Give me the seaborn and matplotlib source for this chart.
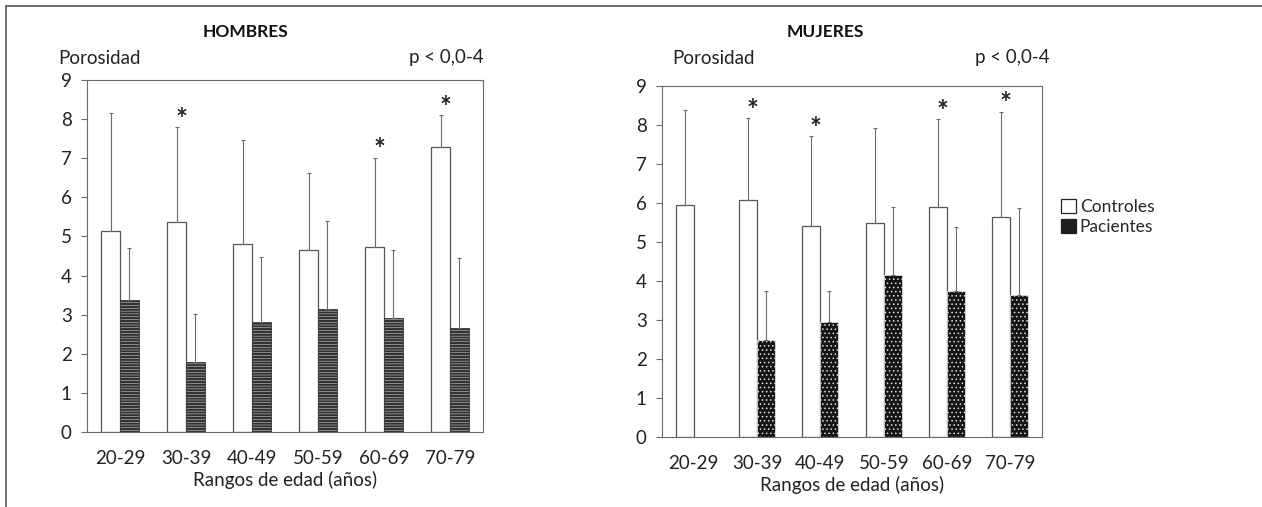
import pandas as pd
import numpy as np
import matplotlib
matplotlib.use('Agg')
import matplotlib.pyplot as plt
import seaborn as sns
from matplotlib.lines import Line2D
from matplotlib.patches import Patch

# -----------------------------
# Datos
# -----------------------------
rangos = ['20-29', '30-39', '40-49', '50-59', '60-69', '70-79']
grupos = ['Controles', 'Pacientes']

# Hombres
h_controles = [5.15, 5.38, 4.82, 4.65, 4.72, 7.30]
h_controles_sup = [8.15, 7.80, 7.48, 6.62, 7.02, 8.10]
h_pacientes = [3.38, 1.78, 2.80, 3.15, 2.92, 2.65]
h_pacientes_sup = [4.70, 3.02, 4.48, 5.40, 4.65, 4.45]
h_asteriscos = ['30-39', '60-69', '70-79']

# Mujeres
m_controles = [5.95, 6.08, 5.42, 5.50, 5.90, 5.65]
m_controles_sup = [8.38, 8.18, 7.72, 7.92, 8.15, 8.35]
m_pacientes = [0.0, 2.48, 2.95, 4.15, 3.75, 3.65]
m_pacientes_sup = [np.nan, 3.75, 3.75, 5.90, 5.40, 5.88]
m_asteriscos = ['30-39', '40-49', '60-69', '70-79']

sns.set_style('white')
plt.rcParams['font.family'] = ['Lato', 'DejaVu Sans']
plt.rcParams['hatch.linewidth'] = 1.7

fig = plt.figure(figsize=(12.62, 5.07), dpi=100)
ax_h = fig.add_axes([0.0689, 0.148, 0.3138, 0.694])
ax_m = fig.add_axes([0.5246, 0.138, 0.3011, 0.692])

gris = '#6a6a6a'
fs = 13.5


def panel(ax, controles, c_sup, pacientes, p_sup, asteriscos, hatch, fc_pac, ec_pac, hlw):
    df = pd.DataFrame({
        'Rango': rangos * 2,
        'Grupo': ['Controles'] * 6 + ['Pacientes'] * 6,
        'Porosidad': controles + pacientes,
    })
    sns.barplot(data=df, x='Rango', y='Porosidad', hue='Grupo', order=rangos,
                hue_order=grupos, palette=['white', fc_pac], width=0.57,
                errorbar=None, legend=False, ax=ax)
    for p in ax.containers[0]:
        p.set_edgecolor('#555555')
        p.set_linewidth(0.9)
    for p in ax.containers[1]:
        p.set_facecolor(fc_pac)
        p.set_edgecolor(ec_pac)
        p.set_hatch(hatch)
        p.set_linewidth(0.6)
        if hasattr(p, 'set_hatch_linewidth'):
            p.set_hatch_linewidth(hlw)

    # barras de error (solo hacia arriba)
    for cont, medias, sup in [(ax.containers[0], controles, c_sup),
                              (ax.containers[1], pacientes, p_sup)]:
        xs, ys, ups = [], [], []
        for p, m, s in zip(cont, medias, sup):
            if np.isnan(s):
                continue
            xs.append(p.get_x() + p.get_width() / 2)
            ys.append(m)
            ups.append(s - m)
        ax.errorbar(xs, ys, yerr=[np.zeros(len(ups)), ups], fmt='none',
                    ecolor=gris, elinewidth=0.8, capsize=1.5, capthick=0.8)

    # asteriscos
    for r in asteriscos:
        i = rangos.index(r)
        p = ax.containers[0][i]
        ax.text(p.get_x() + p.get_width() / 2 + 0.07, c_sup[i] - 0.02, '*',
                ha='center', va='baseline', fontsize=20, fontweight='bold', color='#222222')

    ax.set_xlim(-0.5, 5.5)
    ax.set_ylim(0, 9)
    ax.set_yticks(range(10))
    ax.set_xticks(range(6))
    ax.set_xticklabels(rangos)
    ax.set_xticks(np.arange(-0.5, 6.0, 1.0), minor=True)
    ax.tick_params(axis='x', which='major', length=0, pad=13, labelsize=fs, colors='#222222')
    ax.tick_params(axis='x', which='minor', length=7, width=0.8, color=gris, direction='out')
    ax.tick_params(axis='y', length=4, width=0.8, color=gris, direction='out', pad=7,
                   labelsize=fs, labelcolor='#222222', left=True)
    for s in ax.spines.values():
        s.set_visible(True)
        s.set_color(gris)
        s.set_linewidth(0.8)
    ax.set_xlabel('Rangos de edad (años)', fontsize=fs, color='#222222', labelpad=3)
    ax.set_ylabel('')


panel(ax_h, h_controles, h_controles_sup, h_pacientes, h_pacientes_sup,
      h_asteriscos, '------', 'white', '#333333', 1.7)
panel(ax_m, m_controles, m_controles_sup, m_pacientes, m_pacientes_sup,
      m_asteriscos, '....', '#151515', '#e0e0e0', 0.6)

# textos de cabecera
fig.text(245 / 1262, 1 - 32 / 507, 'HOMBRES', ha='center', va='center',
         fontsize=12.5, fontweight='bold', color='#111111')
fig.text(58 / 1262, 1 - 58 / 507, 'Porosidad', ha='left', va='center', fontsize=fs, color='#222222')
fig.text(484 / 1262, 1 - 58 / 507, 'p < 0,0-4', ha='right', va='center', fontsize=fs, color='#222222')
fig.text(825 / 1262, 1 - 32 / 507, 'MUJERES', ha='center', va='center',
         fontsize=12.5, fontweight='bold', color='#111111')
fig.text(672 / 1262, 1 - 58 / 507, 'Porosidad', ha='left', va='center', fontsize=fs, color='#222222')
fig.text(1050 / 1262, 1 - 58 / 507, 'p < 0,0-4', ha='right', va='center', fontsize=fs, color='#222222')

# leyenda
handles = [Patch(facecolor='white', edgecolor='#222222', linewidth=0.9, label='Controles'),
           Patch(facecolor='#1e1e1e', edgecolor='#1e1e1e', linewidth=0.9, label='Pacientes')]
fig.legend(handles=handles, loc='center left', bbox_to_anchor=(1052 / 1262, 1 - 217 / 507),
           frameon=False, fontsize=12.5, handlelength=0.9, handleheight=0.9,
           handletextpad=0.2, labelspacing=0.2, borderpad=0)

# marco exterior
fig.add_artist(Line2D([6 / 1262, 6 / 1262], [0, 1 - 6 / 507], color='#555555', lw=1.2))
fig.add_artist(Line2D([6 / 1262, 1], [1 - 6 / 507, 1 - 6 / 507], color='#555555', lw=1.2))

plt.savefig('out.png', dpi=100)
